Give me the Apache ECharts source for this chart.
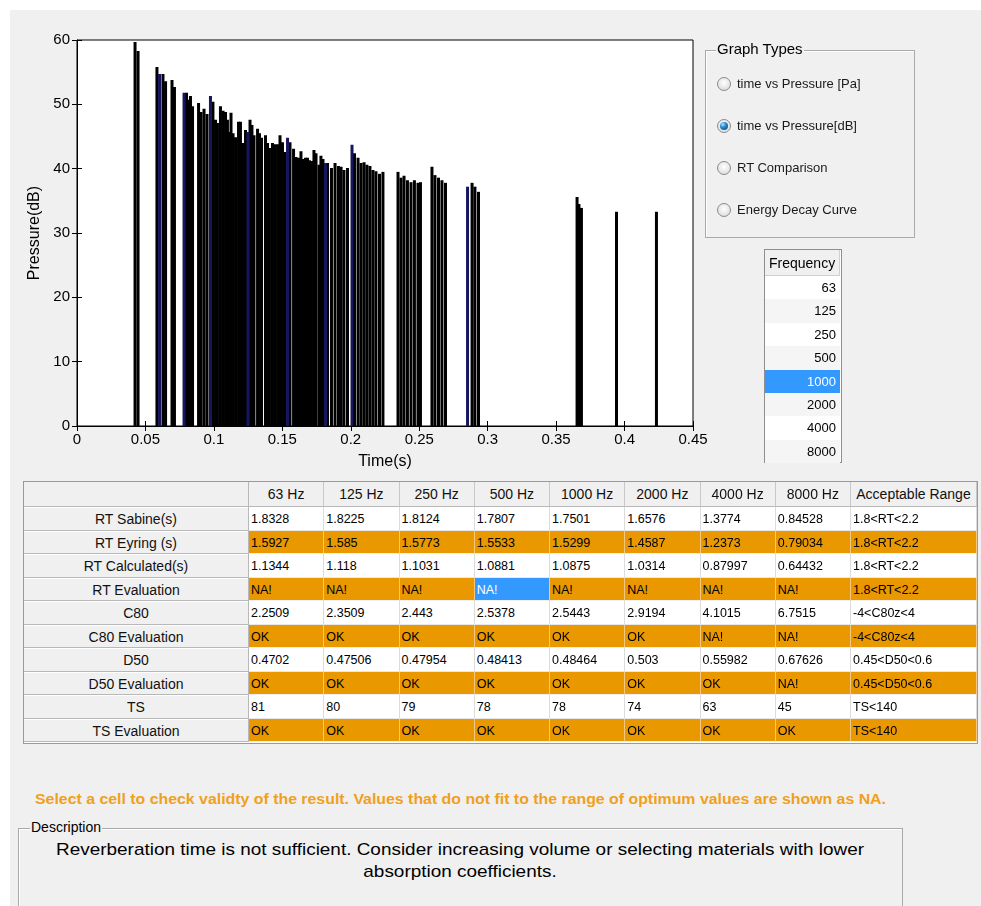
<!DOCTYPE html>
<html><head><meta charset="utf-8">
<script src="https://cdn.jsdelivr.net/npm/echarts@6/dist/echarts.min.js"></script>
<style>
html,body{margin:0;padding:0;background:#fff;width:981px;height:906px;overflow:hidden;font-family:"Liberation Sans",Arial,sans-serif;}
#page{position:absolute;left:10px;top:10px;width:971px;height:896px;background:#f0f0f0;}
#chart{position:absolute;left:0;top:0;width:760px;height:480px;}
.panel{position:absolute;border:1px solid #a9a9a9;box-shadow:inset 1px 1px 0 #fff;}
.ptitle{position:absolute;background:#f0f0f0;padding:0 1px;color:#000;white-space:nowrap;}
.radio{position:absolute;width:14px;height:14px;border-radius:50%;border:1px solid #8a8a8a;box-sizing:border-box;background:radial-gradient(circle at 50% 40%,#ffffff 0%,#e6e6e6 60%,#cfcfcf 100%);}
.radio.on::after{content:"";position:absolute;left:2px;top:2px;width:8px;height:8px;border-radius:50%;background:radial-gradient(circle at 35% 30%,#aee4ff 0%,#2489cf 40%,#083e68 100%);}
.rlabel{position:absolute;font-size:13px;color:#1a1a1a;white-space:nowrap;}
.cell{position:absolute;box-sizing:border-box;white-space:nowrap;overflow:hidden;}
#note{position:absolute;left:35px;top:791px;font-size:14px;font-weight:bold;color:#f0a020;white-space:nowrap;transform-origin:0 0;}
.dline{position:absolute;left:0;width:884px;text-align:center;font-size:17px;color:#000;white-space:nowrap;}
</style></head><body>
<div id="page"></div>
<div id="chart"></div>
<div id="graphTypes"></div>
<div id="freqList"></div>
<div id="table"></div>
<div id="note">Select a cell to check validty of the result. Values that do not fit to the range of optimum values are shown as NA.</div>
<div id="descBox"></div>
<script>
// ---------- chart data ----------
const reflectionTimes = [
  0.0424,0.0446,0.0584,0.0628,0.0647,0.0694,0.0712,0.0800,0.0815,0.0829,
  0.0844,0.0888,0.0906,0.0928,0.0950,0.0993,0.1012,0.1026,0.1048,0.1067,
  0.1085,0.1099,0.1114,0.1125,0.1140,0.1158,0.1180,0.1194,0.1209,0.1231,
  0.1264,0.1278,0.1293,0.1319,0.1333,0.1348,0.1377,0.1392,0.1406,0.1428,
  0.1446,0.1465,0.1483,0.1501,0.1519,0.1556,0.1582,0.1600,0.1618,0.1636,
  0.1651,0.1669,0.1684,0.1698,0.1713,0.1731,0.1746,0.1768,0.1782,0.1797,
  0.1830,0.1859,0.1885,0.1910,0.1929,0.1950,0.1976,0.2027,0.2053,0.2075,
  0.2097,0.2118,0.2140,0.2162,0.2184,0.2210,0.2235,0.2345,0.2367,0.2389,
  0.2414,0.2440,0.2465,0.2491,0.2509,0.2593,0.2615,0.2641,0.2666,0.2692,
  0.2886,0.2907,0.2933,0.3653,0.3667,0.3685,0.3941,0.4233];
const reflectionLevels = [
  59.7,58.3,55.8,54.7,53.6,53.8,52.7,51.8,50.7,51.3,
  49.7,50.2,48.8,49.3,48.5,50.4,47.6,47.1,49.7,49.0,
  48.8,47.6,45.7,48.7,45.5,44.9,47.3,47.3,44.0,46.0,
  47.6,46.8,45.2,46.2,45.5,44.8,45.2,44.0,43.2,44.0,
  43.8,43.8,45.2,44.1,42.6,44.1,43.1,41.8,41.7,42.7,
  41.5,41.7,41.7,41.3,41.2,42.9,42.4,40.6,42.0,41.5,
  40.9,40.1,40.9,40.4,40.3,39.8,40.1,42.4,41.7,40.9,
  41.0,40.6,40.4,39.8,39.6,39.2,39.5,39.5,38.6,38.9,
  38.2,37.9,38.2,37.8,37.9,40.3,39.0,38.6,38.2,37.8,
  37.8,37.2,36.4,35.6,34.5,33.9,33.3,33.3];
const navyTimes  = [0.0603,0.0782,0.0975,0.1249,0.1538,0.1815,0.2009,0.2853];
const navyLevels = [54.7,51.8,51.3,45.7,44.8,40.9,43.7,37.2];
const yTicks = [0,10,20,30,40,50,60];
const xTicks = [0,0.05,0.1,0.15,0.2,0.25,0.3,0.35,0.4,0.45];

// ---------- GUI data ----------
const graphTypes = ['time vs Pressure [Pa]','time vs Pressure[dB]','RT Comparison','Energy Decay Curve'];
const selectedGraph = 1;
const freqHeader = 'Frequency';
const freqValues = ['63','125','250','500','1000','2000','4000','8000'];
const selectedFreq = 4;
const colHeaders = ['63 Hz','125 Hz','250 Hz','500 Hz','1000 Hz','2000 Hz','4000 Hz','8000 Hz','Acceptable Range'];
const rowLabels = ['RT Sabine(s)','RT Eyring (s)','RT Calculated(s)','RT Evaluation','C80','C80 Evaluation','D50','D50 Evaluation','TS','TS Evaluation'];
const rtSabine     = ['1.8328','1.8225','1.8124','1.7807','1.7501','1.6576','1.3774','0.84528','1.8<RT<2.2'];
const rtEyring     = ['1.5927','1.585','1.5773','1.5533','1.5299','1.4587','1.2373','0.79034','1.8<RT<2.2'];
const rtCalculated = ['1.1344','1.118','1.1031','1.0881','1.0875','1.0314','0.87997','0.64432','1.8<RT<2.2'];
const rtEvaluation = ['NA!','NA!','NA!','NA!','NA!','NA!','NA!','NA!','1.8<RT<2.2'];
const c80          = ['2.2509','2.3509','2.443','2.5378','2.5443','2.9194','4.1015','6.7515','-4<C80z<4'];
const c80Evaluation= ['OK','OK','OK','OK','OK','OK','NA!','NA!','-4<C80z<4'];
const d50          = ['0.4702','0.47506','0.47954','0.48413','0.48464','0.503','0.55982','0.67626','0.45<D50<0.6'];
const d50Evaluation= ['OK','OK','OK','OK','OK','OK','OK','NA!','0.45<D50<0.6'];
const ts           = ['81','80','79','78','78','74','63','45','TS<140'];
const tsEvaluation = ['OK','OK','OK','OK','OK','OK','OK','OK','TS<140'];
const tableRows = [rtSabine,rtEyring,rtCalculated,rtEvaluation,c80,c80Evaluation,d50,d50Evaluation,ts,tsEvaluation];
const selectedCell = [3,3];
const noteText = 'Select a cell to check validty of the result. Values that do not fit to the range of optimum values are shown as NA.';
const descTitle = 'Description';
const descLines = ['Reverberation time is not sufficient. Consider increasing volume or selecting materials with lower','absorption coefficients.'];

// ---------- chart ----------
const chart = echarts.init(document.getElementById('chart'));
const axisFont = {fontFamily:'Liberation Sans', fontSize:15, color:'#000'};
const BAR_W = 3;
function stemBar(color){
  return function(params, api){
    const top = api.coord([api.value(0), api.value(1)]);
    const base = api.coord([api.value(0), 0]);
    return {type:'rect', shape:{x:top[0]-BAR_W/2, y:top[1], width:BAR_W, height:base[1]-top[1]}, style:{fill:color}};
  };
}
chart.setOption({
  animation:false,
  grid:{left:77,top:40,width:616,height:386,show:true,backgroundColor:'#fff',borderColor:'#000',borderWidth:1,containLabel:false,outerBoundsMode:'none'},
  xAxis:[{
    type:'value',min:0,max:0.45,interval:0.05,
    name:'Time(s)',nameLocation:'middle',nameGap:28,
    nameTextStyle:{fontFamily:'Liberation Sans',fontSize:16,color:'#000'},
    axisLine:{show:true,onZero:false,lineStyle:{color:'#000'}},
    axisTick:{show:true,inside:true,length:5,lineStyle:{color:'#000'}},
    axisLabel:Object.assign({margin:6,formatter:v=>String(+v.toFixed(2))},axisFont),
    splitLine:{show:false}
  },{
    type:'value',position:'top',min:0,max:0.45,interval:0.05,
    axisLine:{show:false},axisLabel:{show:false},splitLine:{show:false},
    axisTick:{show:true,inside:true,length:5,lineStyle:{color:'#000'}}
  }],
  yAxis:[{
    type:'value',min:0,max:60,interval:10,
    name:'Pressure(dB)',nameLocation:'middle',nameGap:34,
    nameTextStyle:{fontFamily:'Liberation Sans',fontSize:16,color:'#000'},
    axisLine:{show:true,lineStyle:{color:'#000'}},
    axisTick:{show:true,inside:true,length:5,lineStyle:{color:'#000'}},
    axisLabel:Object.assign({margin:7},axisFont),
    splitLine:{show:false}
  },{
    type:'value',position:'right',min:0,max:60,interval:10,
    axisLine:{show:false},axisLabel:{show:false},splitLine:{show:false},
    axisTick:{show:true,inside:true,length:5,lineStyle:{color:'#000'}}
  }],
  series:[{
    type:'custom', renderItem:stemBar('#000'), clip:true,
    encode:{x:0,y:1},
    data:reflectionTimes.map((t,i)=>[t,reflectionLevels[i]])
  },{
    type:'custom', renderItem:stemBar('#161660'), clip:true,
    encode:{x:0,y:1},
    data:navyTimes.map((t,i)=>[t,navyLevels[i]])
  }]
});

// ---------- Graph types panel ----------
(function(){
  const root = document.getElementById('graphTypes');
  let h = '<div class="panel" style="left:705px;top:50px;width:208px;height:186px;"></div>';
  h += '<div class="ptitle" style="left:716px;top:40px;font-size:15px;">Graph Types</div>';
  const ys=[84,126,168,210];
  graphTypes.forEach((g,i)=>{
    h += '<div class="radio'+(i===selectedGraph?' on':'')+'" style="left:717px;top:'+(ys[i]-7)+'px"></div>';
    h += '<div class="rlabel" style="left:737px;top:'+(ys[i]-8)+'px"></div>';
  });
  root.innerHTML = h;
  root.querySelectorAll('.rlabel').forEach((el,i)=>el.textContent=graphTypes[i]);
})();

// ---------- Frequency list ----------
(function(){
  const root = document.getElementById('freqList');
  const L=764,T=249,W=78,H=214;
  let h = '<div style="position:absolute;left:'+L+'px;top:'+T+'px;width:'+W+'px;height:'+H+'px;border:1px solid #8e8e8e;box-sizing:border-box;background:#fff;"></div>';
  h += '<div class="cell" id="fhead" style="left:765px;top:250px;width:75px;height:26px;background:#f0f0f0;border-bottom:1px solid #d0d0d0;border-right:1px solid #d0d0d0;font-size:14px;line-height:26px;padding-left:4px;"></div>';
  freqValues.forEach((v,i)=>{
    const y = 276 + i*23.4;
    const sel = i===selectedFreq;
    const bg = sel ? '#3399ff' : (i%2===0 ? '#ffffff' : '#f5f5f5');
    h += '<div class="cell fv" style="left:765px;top:'+y+'px;width:75px;height:23.4px;background:'+bg+';color:'+(sel?'#fff':'#000')+';font-size:13px;line-height:23.4px;text-align:right;padding-right:4px;"></div>';
  });
  root.innerHTML = h;
  document.getElementById('fhead').textContent = freqHeader;
  root.querySelectorAll('.fv').forEach((el,i)=>el.textContent=freqValues[i]);
})();

// ---------- Results table ----------
(function(){
  const root = document.getElementById('table');
  const colX = [24,249,324.25,399.5,474.75,550,625.25,700.5,775.75,851,977];
  const top0 = 482, headH = 25, rowH = 23.5;
  const orange = '#e99800';
  const frag = document.createDocumentFragment();
  const box = document.createElement('div');
  box.style.cssText = 'position:absolute;left:23px;top:481px;width:955px;height:263px;border:1px solid #9a9a9a;box-sizing:border-box;background:#fff;';
  frag.appendChild(box);
  function mk(x,y,w,h,css,txt){
    const d=document.createElement('div');d.className='cell';
    d.style.cssText='left:'+x+'px;top:'+y+'px;width:'+w+'px;height:'+h+'px;'+css;
    d.textContent=txt;frag.appendChild(d);
  }
  mk(colX[0],top0,colX[1]-colX[0],headH,'background:#f0f0f0;border-right:1px solid #b8b8b8;border-bottom:1px solid #b8b8b8;','');
  colHeaders.forEach((c,j)=>{
    mk(colX[j+1],top0,colX[j+2]-colX[j+1],headH,'background:#f0f0f0;border-right:1px solid #c8c8c8;border-bottom:1px solid #b8b8b8;font-size:14px;line-height:25px;text-align:center;color:#111;',c);
  });
  tableRows.forEach((row,i)=>{
    const y = top0+headH+i*rowH;
    mk(colX[0],y,colX[1]-colX[0],rowH,'background:#f0f0f0;border-right:1px solid #b8b8b8;border-bottom:1px solid #b8b8b8;box-shadow:inset 0 1px 0 #fff;font-size:14px;line-height:'+(rowH+2)+'px;text-align:center;color:#111;',rowLabels[i]);
    const isEval = i%2===1;
    row.forEach((v,j)=>{
      const sel = (i===selectedCell[0] && j===selectedCell[1]);
      const bg = sel ? '#3399ff' : (isEval ? orange : '#fff');
      const col = sel ? '#fff' : '#000';
      const bc = isEval ? '#f4c880' : '#dcdcdc';
      mk(colX[j+1],y,colX[j+2]-colX[j+1],rowH,'background:'+bg+';color:'+col+';border-right:1px solid '+bc+';border-bottom:1px solid '+(isEval?'#f0f0f0':'#e8e8e8')+';font-size:12.5px;line-height:'+(rowH+1)+'px;padding-left:2px;',v);
    });
  });
  root.appendChild(frag);
})();

// ---------- note & description ----------
(function(){
  const note = document.getElementById('note');
  note.textContent = noteText;
  const w = note.getBoundingClientRect().width;
  note.style.transform = 'scaleX('+(851/w)+')';
  const root = document.getElementById('descBox');
  let h = '<div class="panel" style="left:18px;top:828px;width:883px;height:90px;"></div>';
  h += '<div class="ptitle" id="dtitle" style="left:30px;top:819px;font-size:14px;"></div>';
  h += '<div id="dl0" class="dline" style="left:18px;top:840px;"></div>';
  h += '<div id="dl1" class="dline" style="left:18px;top:862px;"></div>';
  root.innerHTML = h;
  document.getElementById('dtitle').textContent = descTitle;
  [0,1].forEach(i=>{ document.getElementById('dl'+i).textContent = descLines[i]; });
  const span=document.createElement('span');span.style.cssText='font-size:17px;white-space:nowrap;position:absolute;visibility:hidden;';
  span.textContent=descLines[0];document.body.appendChild(span);
  const sw=span.getBoundingClientRect().width;span.remove();
  const s=808/sw;
  ['dl0','dl1'].forEach(id=>{const e=document.getElementById(id);e.style.transform='scaleX('+s+')';e.style.transformOrigin='442px 0';});
})();
</script>
</body></html>
